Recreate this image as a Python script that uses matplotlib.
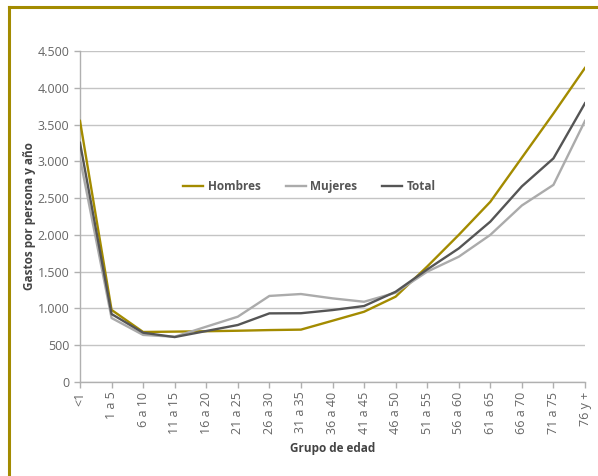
import numpy as np
import matplotlib
matplotlib.use("Agg")
import matplotlib.pyplot as plt
from matplotlib.lines import Line2D

# ============================================================================
# data
grupos = ["<1", "1 a 5", "6 a 10", "11 a 15", "16 a 20", "21 a 25", "26 a 30",
          "31 a 35", "36 a 40", "41 a 45", "46 a 50", "51 a 55", "56 a 60",
          "61 a 65", "66 a 70", "71 a 75", "76 y +"]

hombres = [3550, 980, 680, 685, 690, 697, 706, 712, 833, 955, 1160, 1570,
           2000, 2450, 3050, 3650, 4270]
mujeres = [3040, 870, 640, 615, 752, 888, 1170, 1196, 1137, 1091, 1214, 1500,
           1703, 2000, 2400, 2680, 3550]
total = [3252, 924, 670, 611, 693, 775, 933, 935, 978, 1033, 1227, 1530,
         1816, 2180, 2660, 3040, 3790]

yticks = [0, 500, 1000, 1500, 2000, 2500, 3000, 3500, 4000, 4500]

c_h = "#a38b00"
c_m = "#ababab"
c_t = "#555555"
# ============================================================================

plt.rcParams['font.family'] = ['Open Sans', 'DejaVu Sans']

fig = plt.figure(figsize=(5.98, 4.76), dpi=100)
ax = fig.add_axes([80/598, 1-382/476, (585-80)/598, (382-51)/476])

x = np.arange(len(grupos))
ax.plot(x, hombres, color=c_h, lw=1.7, label="Hombres", zorder=3)
ax.plot(x, mujeres, color=c_m, lw=1.7, label="Mujeres", zorder=3)
ax.plot(x, total, color=c_t, lw=1.7, label="Total", zorder=4)

ax.set_xlim(0, len(grupos)-1)
ax.set_ylim(0, 4500)
ax.set_yticks(yticks)
ax.set_yticklabels([f"{v:,}".replace(",", ".") for v in yticks])
ax.set_xticks(x)
ax.set_xticklabels(grupos, rotation=90)

ax.grid(axis='y', color="#c4c4c4", lw=1.0)
ax.set_axisbelow(True)
for s in ["top", "right"]:
    ax.spines[s].set_visible(False)
for s in ["left", "bottom"]:
    ax.spines[s].set_color("#b0b0b0")
    ax.spines[s].set_linewidth(1.0)
ax.tick_params(colors="#b0b0b0", labelcolor="#666666", labelsize=9, length=4, width=1)
ax.tick_params(axis='x', pad=3)

ax.set_ylabel("Gastos por persona y año", fontsize=8.5, fontweight='bold', color="#444444", labelpad=1)
ax.set_xlabel("Grupo de edad", fontsize=8.5, fontweight='bold', color="#444444", labelpad=6)

leg = ax.legend(loc="center", bbox_to_anchor=(0.455, 0.59), ncol=3, frameon=False,
                fontsize=8.5, handlelength=1.7, columnspacing=2.1, handletextpad=0.4)
for t in leg.get_texts():
    t.set_fontweight('bold')
    t.set_color("#555555")

# gold frame (top and left edges visible)
fig.add_artist(Line2D([9/598, 1.0], [1-7/476, 1-7/476], transform=fig.transFigure, color=c_h, lw=2.2))
fig.add_artist(Line2D([9/598, 9/598], [0.0, 1-7/476], transform=fig.transFigure, color=c_h, lw=2.2))

fig.savefig("out.png", dpi=100)
